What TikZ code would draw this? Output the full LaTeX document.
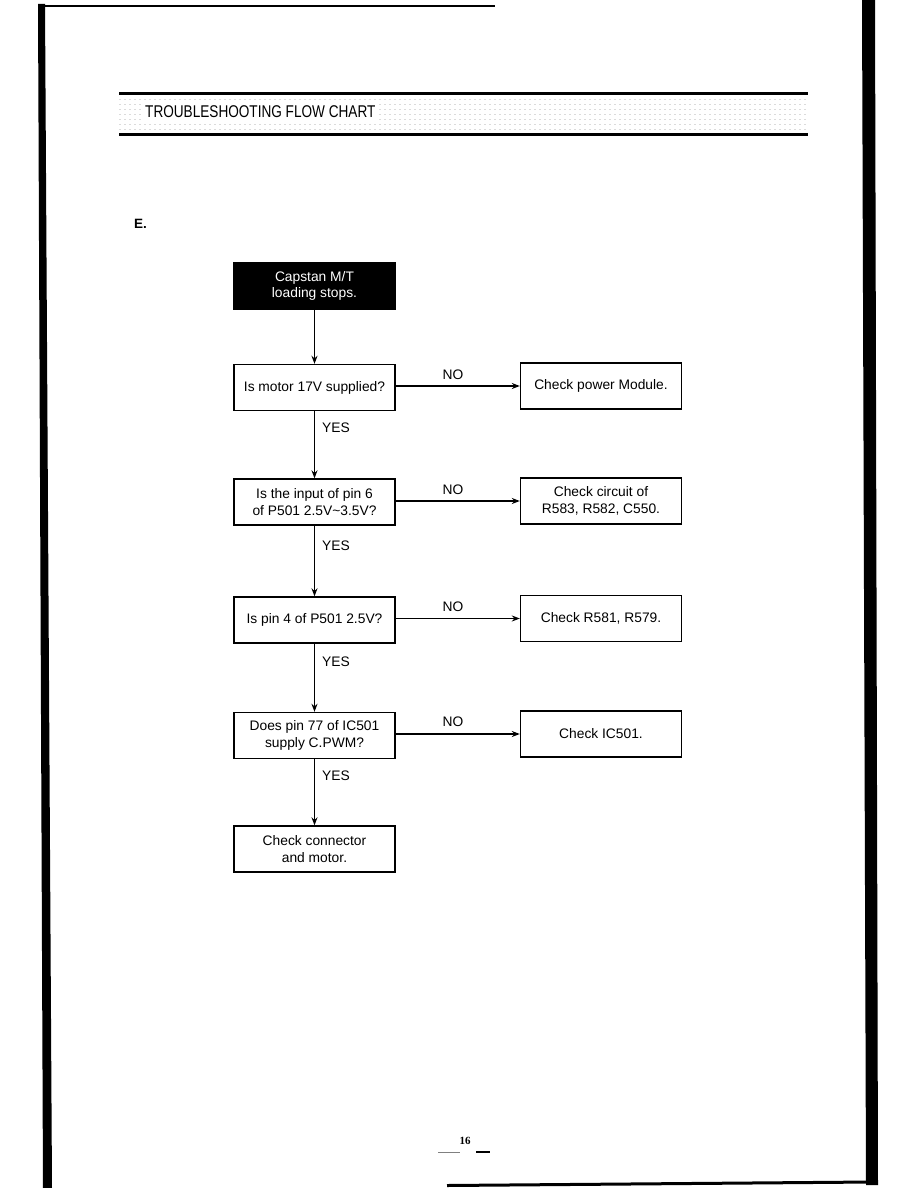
\documentclass[tikz,border=0pt]{standalone}
\usepackage{fontspec}
\setmainfont{Liberation Sans}
\newfontfamily\pnfont{Liberation Serif}
\usetikzlibrary{arrows.meta}
\tikzset{
  box/.style={draw=black, line width=1.4pt, minimum width=161pt, minimum height=46pt,
    align=center, font=\fontsize{13.8}{16.5}\selectfont, inner sep=0pt},
  startbox/.style={box, fill=black, text=white},
  arr/.style={line width=1.2pt, -{Stealth[length=8pt,width=6pt]}},
  lbl/.style={font=\fontsize{13.8}{16}\selectfont, inner sep=0pt},
  noise/.style={draw=black!14, line width=0.6pt, dash pattern=on 2pt off 3pt},
}
\begin{document}
\begin{tikzpicture}[x=1pt,y=-1pt]
\useasboundingbox (0,0) rectangle (918,1188);
\fill[white] (0,0) rectangle (918,1188);
% page frame (scan borders)
\fill[black] (38,4) -- (45,4) -- (52,1188) -- (43,1188) -- cycle;
\fill[black] (862,0) -- (875,0) -- (878,1185) -- (866,1185) -- cycle;
\draw[line width=2pt] (38,6) -- (495,6);
\draw[line width=3pt] (447,1185.5) -- (872,1182);
% header band
\draw[line width=3pt] (119,94) -- (808,94);
\draw[line width=3pt] (119,135) -- (808,135);
\foreach \yy in {99,104,109,114,119,124,129}
  \draw[noise] (119,\yy) -- (808,\yy);
\fill[white] (142,102) rectangle (378,121);
\node[anchor=base west, inner sep=0pt, font=\fontsize{17}{18}\selectfont] (title) at (145,117.5)
  {\scalebox{0.8}[1]{TROUBLESHOOTING FLOW CHART}};
% section letter
\node[anchor=west, inner sep=0pt, font=\bfseries\fontsize{13.5}{15}\selectfont] (sec) at (134,224) {E.};
% flow chart
\node[startbox] (s) at (314.5,286) {Capstan M/T\\loading stops.};
\node[box] (q1) at (314.5,387.5) {Is motor 17V supplied?};
\node[box] (r1) at (601,386) {Check power Module.};
\node[box] (q2) at (314.5,502) {Is the input of pin 6\\of P501 2.5V\textasciitilde3.5V?};
\node[box] (r2) at (601,501) {Check circuit of\\R583, R582, C550.};
\node[box] (q3) at (314.5,620) {Is pin 4 of P501 2.5V?};
\node[box] (r3) at (601,618.5) {Check R581, R579.};
\node[box] (q4) at (314.5,735.5) {Does pin 77 of IC501\\supply C.PWM?};
\node[box] (r4) at (601,734) {Check IC501.};
\node[box] (q5) at (314.5,849) {Check connector\\and motor.};
% vertical flow
\draw[arr] (s.south) -- (q1.north);
\draw[arr] (q1.south) -- (q2.north);
\draw[arr] (q2.south) -- (q3.north);
\draw[arr] (q3.south) -- (q4.north);
\draw[arr] (q4.south) -- (q5.north);
% NO branches
\draw[arr] (q1.east |- r1.west) -- (r1.west);
\draw[arr] (q2.east |- r2.west) -- (r2.west);
\draw[arr] (q3.east |- r3.west) -- (r3.west);
\draw[arr] (q4.east |- r4.west) -- (r4.west);
% labels
\node[lbl] (n1) at (453,375) {NO};
\node[lbl] (n2) at (453,490) {NO};
\node[lbl] (n3) at (453,607) {NO};
\node[lbl] (n4) at (453,722) {NO};
\node[lbl, anchor=west] (y1) at (322,428) {YES};
\node[lbl, anchor=west] (y2) at (322,546) {YES};
\node[lbl, anchor=west] (y3) at (322,662) {YES};
\node[lbl, anchor=west] (y4) at (322,776) {YES};
% page number
\node[inner sep=0pt, font=\pnfont\bfseries\fontsize{11}{12}\selectfont] (pn) at (465,1141) {16};
\draw[black!50, line width=1pt] (438,1152) -- (460,1152);
\draw[black, line width=1.2pt] (476,1152) -- (490,1152);
\end{tikzpicture}
\end{document}
